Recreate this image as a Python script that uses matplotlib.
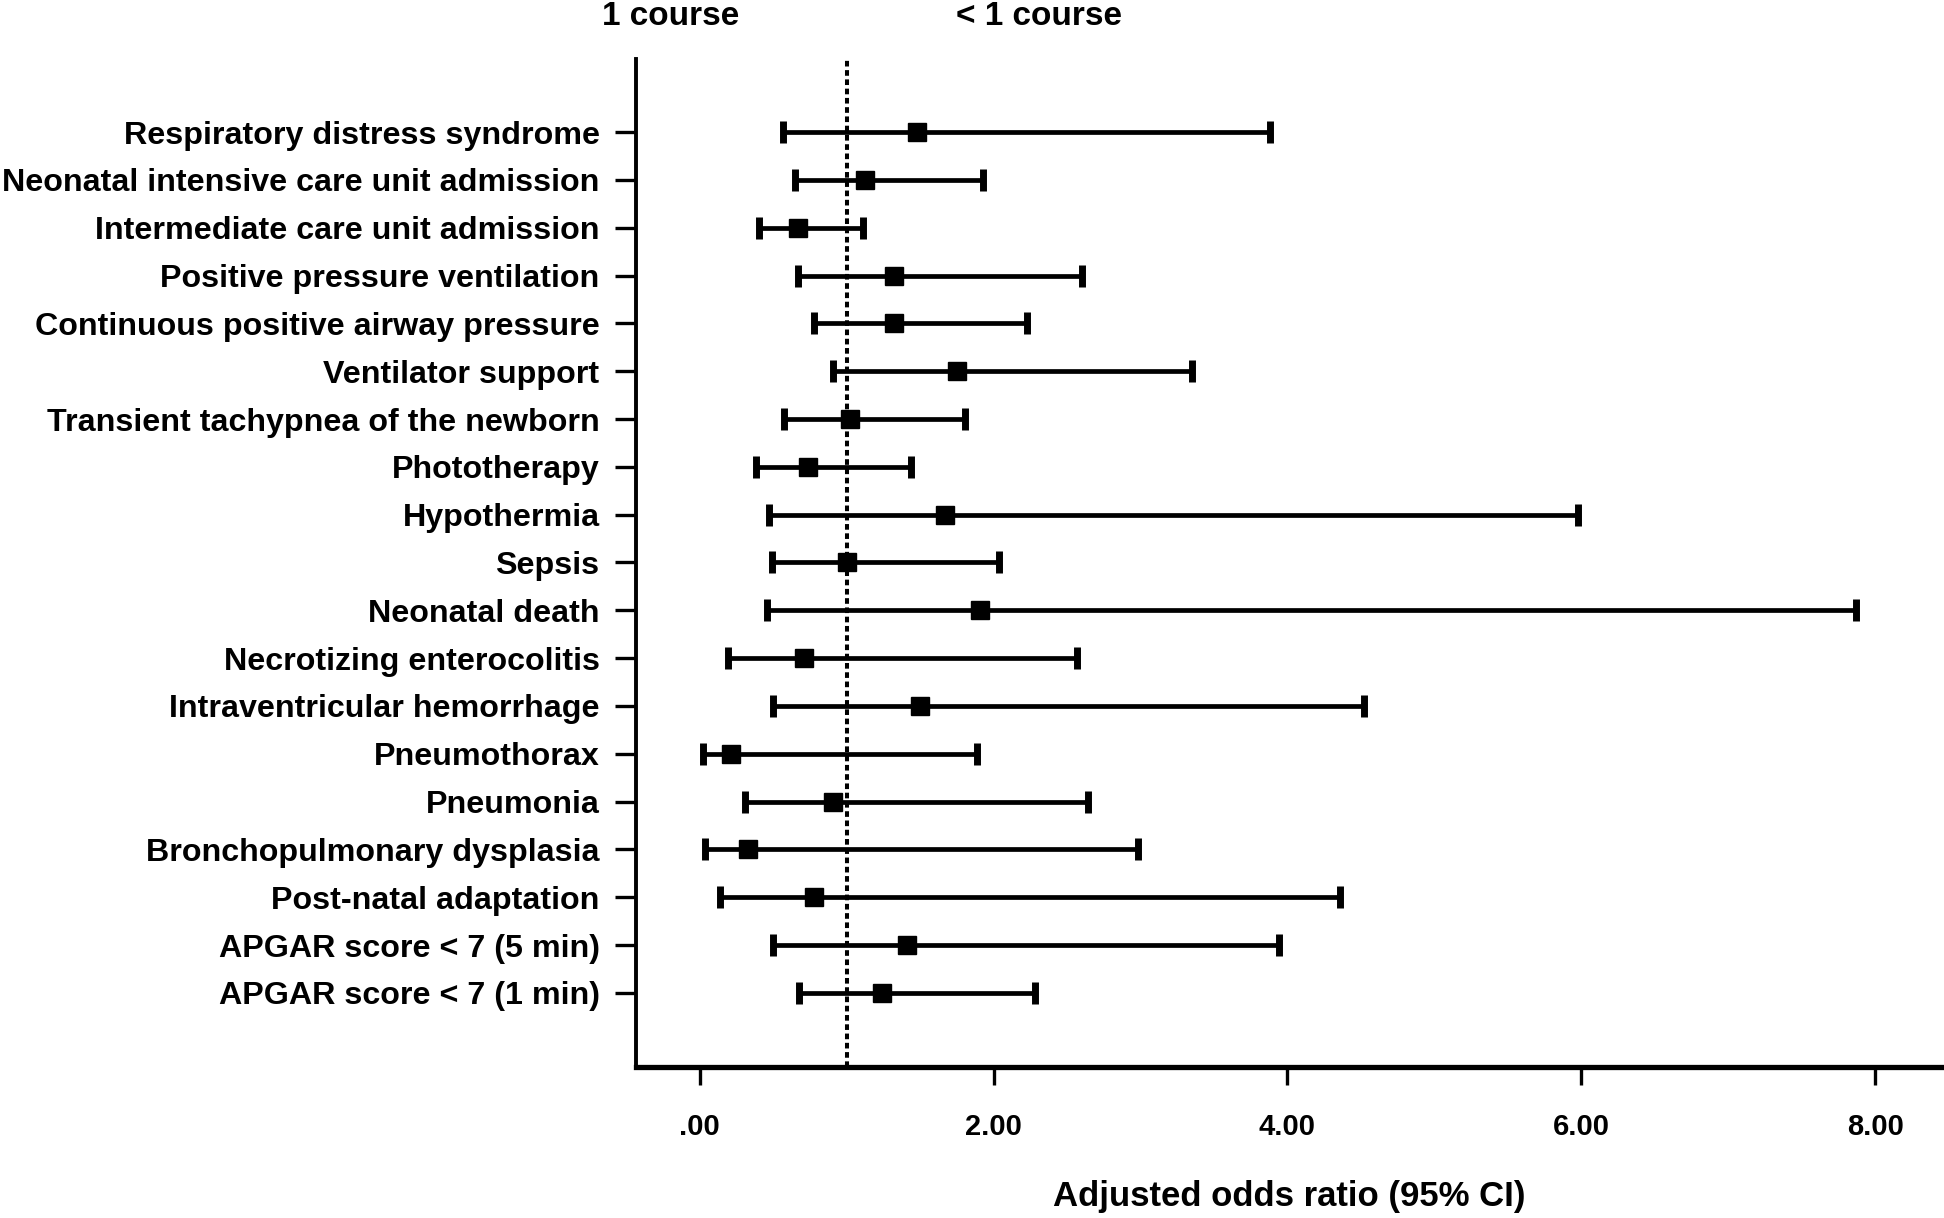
import numpy as np
import matplotlib
matplotlib.use("Agg")
import matplotlib.pyplot as plt
import matplotlib.transforms as mtransforms

plt.rcParams['font.family'] = ['Liberation Sans', 'DejaVu Sans']
plt.rcParams['font.weight'] = 'bold'

# outcomes, listed top to bottom
outcomes = [
    "Respiratory distress syndrome",
    "Neonatal intensive care unit admission",
    "Intermediate care unit admission",
    "Positive pressure ventilation",
    "Continuous positive airway pressure",
    "Ventilator support",
    "Transient tachypnea of the newborn",
    "Phototherapy",
    "Hypothermia",
    "Sepsis",
    "Neonatal death",
    "Necrotizing enterocolitis",
    "Intraventricular hemorrhage",
    "Pneumothorax",
    "Pneumonia",
    "Bronchopulmonary dysplasia",
    "Post-natal adaptation",
    "APGAR score < 7 (5 min)",
    "APGAR score < 7 (1 min)",
]
odds_ratio = [1.48, 1.125, 0.67, 1.32, 1.32, 1.75, 1.02, 0.74, 1.67, 1.00,
              1.91, 0.71, 1.50, 0.21, 0.905, 0.33, 0.78, 1.41, 1.24]
ci_low = [0.565, 0.65, 0.40, 0.67, 0.78, 0.905, 0.575, 0.38, 0.47, 0.49,
          0.46, 0.19, 0.50, 0.02, 0.31, 0.035, 0.14, 0.50, 0.675]
ci_high = [3.88, 1.93, 1.11, 2.60, 2.23, 3.35, 1.805, 1.44, 5.98, 2.04,
           7.87, 2.57, 4.52, 1.89, 2.64, 2.98, 4.36, 3.94, 2.28]

x_ticks = [0, 2, 4, 6, 8]
x_tick_labels = [".00", "2.00", "4.00", "6.00", "8.00"]
ref_value = 1.0

fig = plt.figure(figsize=(19.44, 12.18), dpi=100)
ax = fig.add_axes([0.327, 0.124, 0.672, 0.8276])

n = len(outcomes)
y = np.arange(n, 0, -1)
orr = np.array(odds_ratio)
lo = np.array(ci_low)
hi = np.array(ci_high)

ax.axvline(ref_value, color='black', linestyle=(0, (1.4, 0.9)), linewidth=2.9, zorder=1)
ax.errorbar(orr, y, xerr=[orr - lo, hi - orr], fmt='s', color='black',
            markersize=13.5, elinewidth=3.4, capsize=8, capthick=5, zorder=3)

ax.set_xlim(-0.436, 8.455)
ax.set_ylim(-0.55, n + 1.53)
ax.set_xticks(x_ticks)
ax.set_xticklabels(x_tick_labels, fontsize=21, fontweight='bold')
ax.set_yticks(y)
ax.set_yticklabels(outcomes, fontsize=23.2, fontweight='bold')
ax.tick_params(axis='y', length=15, width=2.4, pad=11)
ax.tick_params(axis='x', length=13, width=2.4, pad=20)

ax.spines['top'].set_visible(False)
ax.spines['right'].set_visible(False)
ax.spines['left'].set_linewidth(2.8)
ax.spines['bottom'].set_linewidth(3.8)

ax.set_xlabel("Adjusted odds ratio (95% CI)", fontsize=25, fontweight='bold', labelpad=28)

trans = mtransforms.blended_transform_factory(ax.transData, ax.transAxes)
ax.text(-0.2, 1.042, "1 course", transform=trans, ha='center', va='center',
        fontsize=24, fontweight='bold')
ax.text(2.31, 1.042, "< 1 course", transform=trans, ha='center', va='center',
        fontsize=24, fontweight='bold')

fig.savefig("out.png", dpi=100)
